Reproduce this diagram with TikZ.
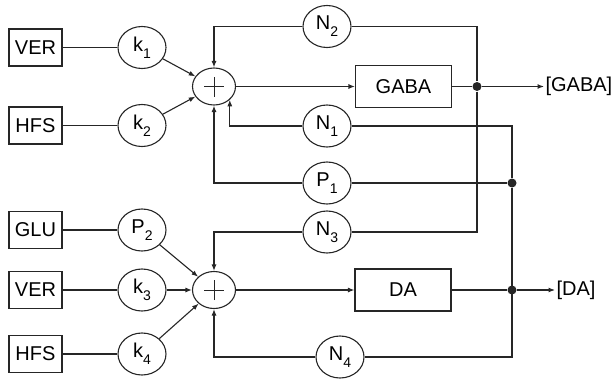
\documentclass[tikz,border=0pt]{standalone}
\usepackage{fontspec}
\setmainfont{Liberation Sans}
\usetikzlibrary{arrows.meta,positioning,calc,shapes.geometric}
\usepackage{xcolor}
\definecolor{Ink}{HTML}{262626}
\newcommand{\lsub}[1]{\raisebox{-7pt}{\fontsize{14}{14}\selectfont #1}}
\tikzset{
 block/.style={draw=Ink, rectangle, minimum width=53pt, minimum height=37pt, inner sep=0pt, font=\fontsize{20}{23}\selectfont},
 outblock/.style={block, minimum width=96pt, minimum height=42pt},
 gain/.style={draw=Ink, ellipse, minimum width=48pt, minimum height=42pt, inner sep=0pt, font=\fontsize{20}{23}\selectfont},
 summer/.style={draw=Ink, ellipse, minimum width=43pt, minimum height=37pt, inner sep=0pt,
   path picture={\draw[Ink, line width=0.8pt] (path picture bounding box.center) +(-10pt,0) -- +(10pt,0)
     (path picture bounding box.center) +(0,-10pt) -- +(0,10pt);}},
 junction/.style={circle, fill=Ink, inner sep=0pt, minimum size=9pt},
 outlabel/.style={anchor=west, inner sep=1pt, font=\fontsize{20}{23}\selectfont},
 wire/.style={draw=Ink},
 arrow/.style={-{Latex[length=6.5pt,width=5pt]}, draw=Ink}
}
\begin{document}
\begin{tikzpicture}[x=1pt,y=-1pt,line width=1.1pt]
\useasboundingbox (0,0) rectangle (611,380);
% GABA loop
\node[block] (ver1) at (35.5,47.5) {VER};
\node[block] (hfs1) at (35.5,125.5) {HFS};
\node[gain] (k1) at (142,47.5) {k\lsub{1}};
\node[gain] (k2) at (142,125.5) {k\lsub{2}};
\node[summer] (sum1) at (214,86.5) {};
\node[gain] (n2) at (327,26.5) {N\lsub{2}};
\node[outblock] (gaba) at (403.5,86.5) {GABA};
\node[gain] (n1) at (327,126) {N\lsub{1}};
\node[gain] (p1) at (327,183) {P\lsub{1}};
\node[junction] (dg) at (477,86.5) {};
\node[junction] (dp) at (512,183) {};
\node[outlabel] (outgaba) at (544,86.5) {[GABA]};
% DA loop
\node[block] (glu) at (35.5,230) {GLU};
\node[block] (ver2) at (35.5,290) {VER};
\node[block] (hfs2) at (35.5,354) {HFS};
\node[gain] (p2) at (142,230) {P\lsub{2}};
\node[gain] (k3) at (142,290) {k\lsub{3}};
\node[gain] (k4) at (142,354) {k\lsub{4}};
\node[summer] (sum2) at (214,290) {};
\node[gain] (n3) at (327,232) {N\lsub{3}};
\node[gain] (n4) at (340,357) {N\lsub{4}};
\node[outblock] (da) at (403,290) {DA};
\node[junction] (dd) at (512,290) {};
\node[outlabel] (outda) at (555,290) {[DA]};

\draw[wire] (ver1) -- (k1);
\draw[wire] (hfs1) -- (k2);
\draw[arrow] (k1) -- (sum1);
\draw[arrow] (k2) -- (sum1);
\draw[arrow] (sum1) -- (gaba);
\draw[wire] (gaba) -- (dg);
\draw[arrow] (dg) -- (outgaba);
\draw[arrow] (n2) -| (sum1);
\draw[arrow] (n1) -| (sum1.-40);
\draw[arrow] (p1) -| (sum1);
\draw[wire] (n2) -| (dg) |- (n3);
\draw[wire] (n1) -| (dp) |- (n4);
\draw[wire] (p1) -- (dp);

\draw[wire] (glu) -- (p2);
\draw[wire] (ver2) -- (k3);
\draw[wire] (hfs2) -- (k4);
\draw[arrow] (p2) -- (sum2);
\draw[arrow] (k3) -- (sum2);
\draw[arrow] (k4) -- (sum2);
\draw[arrow] (sum2) -- (da);
\draw[wire] (da) -- (dd);
\draw[arrow] (dd) -- (outda);
\draw[arrow] (n3) -| (sum2);
\draw[arrow] (n4) -| (sum2);
\end{tikzpicture}
\end{document}
